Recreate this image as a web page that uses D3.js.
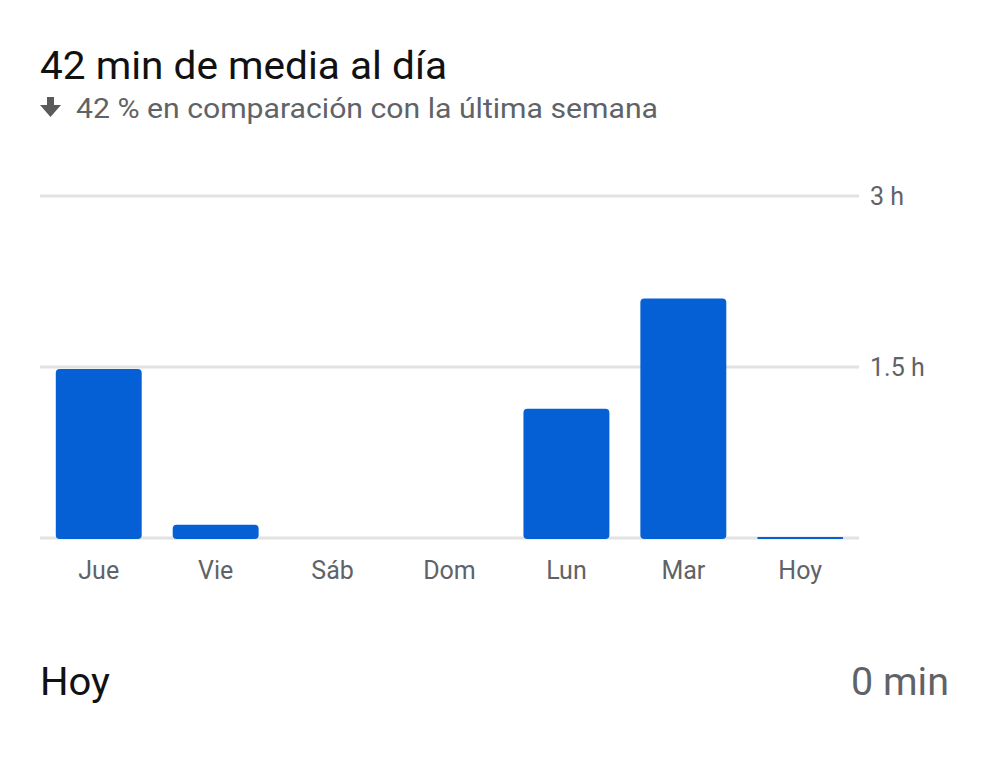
<!DOCTYPE html>
<html><head><meta charset="utf-8">
<script src="https://cdn.jsdelivr.net/npm/d3@7"></script>
<style>
html,body{margin:0;padding:0;background:#fff;}
svg{display:block;font-family:Roboto,"Noto Sans",sans-serif;}
</style></head>
<body>
<svg id="c" width="991" height="768"></svg>
<script>
const days = ["Jue","Vie","Sáb","Dom","Lun","Mar","Hoy"];
const minutes = [89, 7, 0, 0, 68, 126, 0.5];
const tickHours = [0, 1.5, 3];
const tickLabels = ["", "1.5 h", "3 h"];
const title = "42 min de media al día";
const subtitle = "42 % en comparación con la última semana";
const footLabel = "Hoy";
const footValue = "0 min";

const svg = d3.select("#c");
const plotLeft = 40, plotRight = 859, plotTop = 196, plotBottom = 538;

const x = d3.scaleBand().domain(days).range([plotLeft, plotRight]).paddingInner(0.265).paddingOuter(0.135);
const y = d3.scaleLinear().domain([0, 180]).range([plotBottom, plotTop]);

svg.append("text").attr("x", 40).attr("y", 79).attr("font-size", 39).attr("fill", "#111")
  .attr("textLength", 407).attr("lengthAdjust", "spacingAndGlyphs").text(title);
// down arrow icon
const ag = svg.append("g").attr("transform", "translate(50.5,0)").attr("fill", "#5a5a5a");
ag.append("rect").attr("x", -3.5).attr("y", 97).attr("width", 7).attr("height", 9);
ag.append("path").attr("d", "M-10.5,105 L10.5,105 L0,117 Z");
svg.append("text").attr("x", 76).attr("y", 117.5).attr("font-size", 28.5).attr("fill", "#5f6368")
  .attr("textLength", 582).attr("lengthAdjust", "spacingAndGlyphs").text(subtitle);

// gridlines
svg.append("g").selectAll("line").data(tickHours).join("line")
  .attr("x1", plotLeft).attr("x2", plotRight)
  .attr("y1", d => y(d * 60)).attr("y2", d => y(d * 60))
  .attr("stroke", "#e2e2e2").attr("stroke-width", 3);

// right axis labels
const yAxis = d3.axisRight(y).tickValues(tickHours.map(h => h * 60))
  .tickFormat((d, i) => tickLabels[i]).tickSize(0).tickPadding(11);
const ya = svg.append("g").attr("transform", `translate(${plotRight},0)`).call(yAxis);
ya.select(".domain").remove();
ya.selectAll("text").attr("font-size", 25).attr("fill", "#5f6368").attr("font-family", "Roboto");

// bars
svg.append("g").selectAll("path").data(days.map((d, i) => ({d, v: minutes[i]})).filter(o => o.v > 0)).join("path")
  .attr("fill", "#0560d6")
  .attr("d", o => {
    const x0 = x(o.d), w = x.bandwidth(), y0 = y(o.v), h = plotBottom - y0 + 1;
    const r = Math.min(4, h / 2);
    return `M${x0},${y0 + r} Q${x0},${y0} ${x0 + r},${y0} L${x0 + w - r},${y0} Q${x0 + w},${y0} ${x0 + w},${y0 + r} L${x0 + w},${y0 + h - r} Q${x0 + w},${y0 + h} ${x0 + w - r},${y0 + h} L${x0 + r},${y0 + h} Q${x0},${y0 + h} ${x0},${y0 + h - r} Z`;
  });

// x axis labels
const xAxis = d3.axisBottom(x).tickSize(0).tickPadding(23);
const xa = svg.append("g").attr("transform", `translate(0,${plotBottom})`).call(xAxis);
xa.select(".domain").remove();
xa.selectAll("text").attr("font-size", 25).attr("fill", "#5f6368").attr("font-family", "Roboto");

svg.append("text").attr("x", 40).attr("y", 695).attr("font-size", 39).attr("fill", "#111")
  .attr("textLength", 70).attr("lengthAdjust", "spacingAndGlyphs").text(footLabel);
svg.append("text").attr("x", 949).attr("y", 695).attr("font-size", 39).attr("fill", "#5f6368").attr("text-anchor", "end")
  .attr("textLength", 98).attr("lengthAdjust", "spacingAndGlyphs").text(footValue);
</script>
</body></html>
